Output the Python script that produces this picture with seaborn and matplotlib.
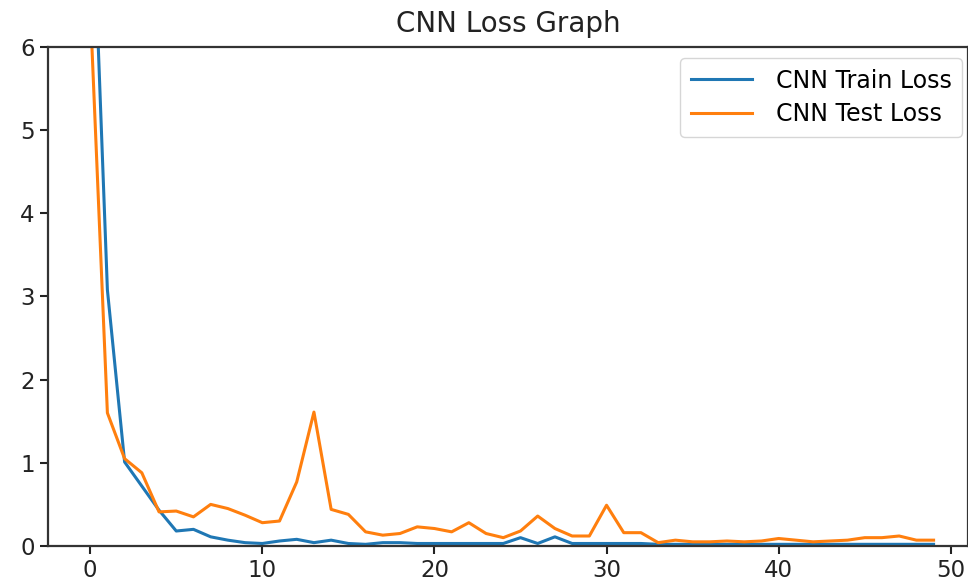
import pandas as pd
import matplotlib
matplotlib.use("Agg")
import matplotlib.pyplot as plt
import seaborn as sns

# Loss values, one per epoch
epochs = list(range(50))
train_loss = [8.6, 3.08, 1.01, 0.72, 0.43, 0.18, 0.2, 0.11, 0.07, 0.04,
              0.03, 0.06, 0.08, 0.04, 0.07, 0.03, 0.02, 0.04, 0.04, 0.03,
              0.03, 0.03, 0.03, 0.03, 0.03, 0.1, 0.03, 0.11, 0.03, 0.03,
              0.03, 0.03, 0.03, 0.02, 0.02, 0.02, 0.02, 0.02, 0.02, 0.02,
              0.02, 0.02, 0.02, 0.02, 0.02, 0.02, 0.02, 0.02, 0.02, 0.02]
test_loss = [6.5, 1.6, 1.05, 0.88, 0.41, 0.42, 0.35, 0.5, 0.45, 0.37,
             0.28, 0.3, 0.77, 1.61, 0.44, 0.38, 0.17, 0.13, 0.15, 0.23,
             0.21, 0.17, 0.28, 0.15, 0.1, 0.18, 0.36, 0.21, 0.12, 0.12,
             0.49, 0.16, 0.16, 0.04, 0.07, 0.05, 0.05, 0.06, 0.05, 0.06,
             0.09, 0.07, 0.05, 0.06, 0.07, 0.1, 0.1, 0.12, 0.07, 0.07]

df = pd.DataFrame({
    "epoch": epochs * 2,
    "loss": train_loss + test_loss,
    "series": ["CNN Train Loss"] * 50 + ["CNN Test Loss"] * 50,
})

plt.rcParams["font.family"] = ["DejaVu Sans"]
fig = plt.figure(figsize=(9.68, 5.85), dpi=100)
ax = fig.add_axes([0.0496, 0.0667, 0.9504, 0.853])

sns.lineplot(data=df, x="epoch", y="loss", hue="series",
             palette=["#1f77b4", "#ff7f0e"], linewidth=2.2, ax=ax)

ax.set_xlim(-2.45, 51.0)
ax.set_ylim(0, 6)
ax.set_xticks([0, 10, 20, 30, 40, 50])
ax.set_yticks([0, 1, 2, 3, 4, 5, 6])
ax.set_xlabel("")
ax.set_ylabel("")
ax.set_title("CNN Loss Graph", fontsize=20, color="#222222", pad=11)
ax.tick_params(labelsize=16.5, length=6, width=1.5, colors="#222222")
for s in ax.spines.values():
    s.set_linewidth(1.6)
    s.set_color("#333333")

# legend sits in the upper right corner, like the original
ax.legend(loc="upper right", bbox_to_anchor=(0.9935, 0.978),
          borderaxespad=0, fontsize=17, frameon=True, handlelength=2.6,
          handletextpad=1.0, labelspacing=0.4, borderpad=0.45)

fig.savefig("out.png", dpi=100)
